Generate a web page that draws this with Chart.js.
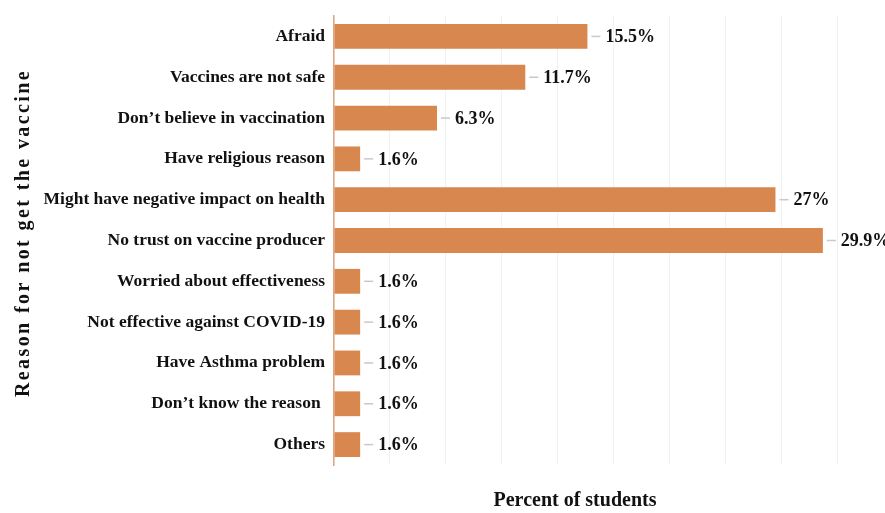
<!DOCTYPE html>
<html>
<head>
<meta charset="utf-8">
<script src="https://cdn.jsdelivr.net/npm/chart.js@4.4.1/dist/chart.umd.min.js"></script>
<style>
  html, body { margin: 0; padding: 0; background: #fff; }
  #wrap { width: 885px; height: 513px; }
</style>
</head>
<body>
<div id="wrap"><canvas id="reasonChart"></canvas></div>
<script>
const reasons = [
    "Afraid",
    "Vaccines are not safe",
    "Don\u2019t believe in vaccination",
    "Have religious reason",
    "Might have negative impact on health",
    "No trust on vaccine producer",
    "Worried about effectiveness",
    "Not effective against COVID-19",
    "Have Asthma problem",
    "Don\u2019t know the reason ",
    "Others"
];
const percents = [15.5, 11.7, 6.3, 1.6, 27, 29.9, 1.6, 1.6, 1.6, 1.6, 1.6];
const valueLabels = ["15.5%", "11.7%", "6.3%", "1.6%", "27%", "29.9%", "1.6%", "1.6%", "1.6%", "1.6%", "1.6%"];
const yTitle = "Reason for not get the vaccine";
const xTitle = "Percent of students";

const serif = "'Liberation Serif', 'Times New Roman', serif";

// leader dash + value after each bar, plus both axis titles
const barLabels = {
    id: "barLabels",
    afterDatasetsDraw(chart) {
        const ctx = chart.ctx;
        const meta = chart.getDatasetMeta(0);
        ctx.save();
        meta.data.forEach((bar, i) => {
            ctx.strokeStyle = "#c9c9c9";
            ctx.lineWidth = 1.5;
            ctx.beginPath();
            ctx.moveTo(bar.x + 4, bar.y);
            ctx.lineTo(bar.x + 13, bar.y);
            ctx.stroke();
            ctx.fillStyle = "#111";
            ctx.font = "bold 18px " + serif;
            ctx.textAlign = "left";
            ctx.textBaseline = "middle";
            ctx.fillText(valueLabels[i], bar.x + 18, bar.y + 1);
        });
        ctx.font = "bold 20px " + serif;
        ctx.textAlign = "center";
        ctx.fillText(xTitle, 575, 501);

        ctx.translate(24, 233);
        ctx.rotate(-Math.PI / 2);
        ctx.font = "bold 20px " + serif;
        ctx.letterSpacing = "2.4px";
        ctx.fillText(yTitle, 0, 0);
        ctx.restore();
    }
};

new Chart(document.getElementById("reasonChart"), {
    type: "bar",
    data: {
        labels: reasons,
        datasets: [{
            data: percents,
            backgroundColor: "#d8874f",
            barPercentage: 0.98,
            categoryPercentage: 0.62
        }]
    },
    options: {
        indexAxis: "y",
        responsive: true,
        maintainAspectRatio: false,
        animation: false,
        layout: { padding: { top: 16, right: 0, left: 0, bottom: 0 } },
        plugins: {
            legend: { display: false },
            tooltip: { enabled: false }
        },
        scales: {
            x: {
                min: 0,
                max: 33.7,
                ticks: { display: false, stepSize: 3.42 },
                grid: { color: "#f1f1f1", drawTicks: false },
                border: { display: false },
                afterFit: s => { s.height = 48; }
            },
            y: {
                ticks: {
                    color: "#111",
                    padding: 1,
                    font: { family: serif, weight: "bold", size: 17.5 }
                },
                grid: { display: false },
                border: { color: "#e0a57d", width: 1.5 },
                afterFit: s => { s.width = 334; }
            }
        }
    },
    plugins: [barLabels]
});
</script>
</body>
</html>
